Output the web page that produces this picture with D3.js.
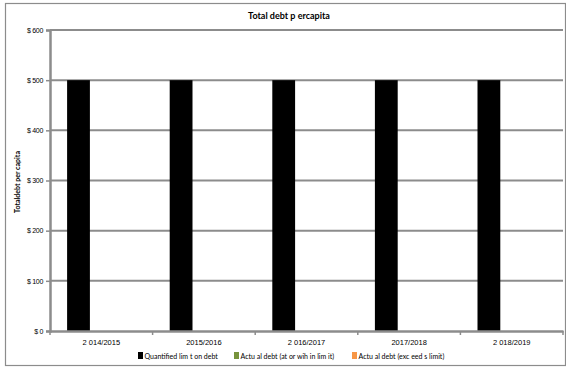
<!DOCTYPE html>
<html>
<head>
<meta charset="utf-8">
<script src="https://cdn.jsdelivr.net/npm/d3@7"></script>
<style>
  body { margin: 0; background: #fff; }
  svg { display: block; font-family: Lato, "Open Sans", sans-serif; }
</style>
</head>
<body>
<svg id="chart" width="566" height="369"></svg>
<script>
// Financial years shown on the x axis
const years = ["2 014/2015", "2015/2016", "2 016/2017", "2017/2018", "2 018/2019"];
// Series names (legend) and their fills
const seriesNames = ["Quantified lim t on  debt", "Actu al debt (at  or wih in lim it)", "Actu al debt (exc eed s limit)"];
const seriesColors = ["#000000", "#77933c", "#f79646"];
// Values per capita, one array per series
const limitValues = [500, 500, 500, 500, 500];
const actualWithin = [0, 0, 0, 0, 0];
const actualExceeds = [0, 0, 0, 0, 0];
// Y tick values and labels
const yTicks = [0, 100, 200, 300, 400, 500, 600];
const yTickLabels = ["$ 0", "$ 100", "$ 200", "$ 300", "$ 400", "$ 500", "$ 600"];

const allSeries = [limitValues, actualWithin, actualExceeds];
const svg = d3.select("#chart");
const m = { left: 50, top: 30 };
const plotR = 563, plotB = 331;

// outer chart border
svg.append("rect").attr("x", 5.5).attr("y", 3.5).attr("width", 560).attr("height", 362)
  .attr("fill", "#fff").attr("stroke", "#8c8c8c").attr("stroke-width", 1.2);

const x = d3.scaleBand().domain(years).range([m.left, plotR]).paddingInner(0).paddingOuter(0);
const y = d3.scaleLinear().domain([0, 600]).range([plotB, m.top]);

// bar width = band / (series + gap 1.5), group centred in the band
const barW = x.bandwidth() / 4.5;
const offset = barW * 0.75;

// grid lines
svg.append("g").selectAll("line").data(yTicks.filter(d => d > 0)).join("line")
  .attr("x1", m.left).attr("x2", plotR)
  .attr("y1", d => y(d)).attr("y2", d => y(d))
  .attr("stroke", "#8c8c8c").attr("stroke-width", 2);

// bars
allSeries.forEach((vals, si) => {
  svg.append("g").selectAll("rect").data(vals.map((v, i) => ({ v, cat: years[i] }))).join("rect")
    .attr("x", d => x(d.cat) + offset + si * barW)
    .attr("width", barW)
    .attr("y", d => y(d.v))
    .attr("height", d => plotB - y(d.v))
    .attr("fill", seriesColors[si]);
});

// y axis
const yAxis = d3.axisLeft(y).tickValues(yTicks).tickFormat((d, i) => yTickLabels[i]).tickSize(4).tickPadding(3);
const gy = svg.append("g").attr("transform", `translate(${m.left},0)`).call(yAxis);
gy.select(".domain").attr("stroke", "#8c8c8c").attr("stroke-width", 2.5);
gy.selectAll(".tick line").attr("stroke", "#8c8c8c").attr("stroke-width", 1.5);
gy.selectAll(".tick text").attr("font-size", 7).attr("fill", "#000").attr("letter-spacing", -0.3);

// x axis
const xAxis = d3.axisBottom(x).tickSize(0).tickPadding(9);
const gx = svg.append("g").attr("transform", `translate(0,${plotB})`).call(xAxis);
gx.select(".domain").attr("stroke", "#8c8c8c").attr("stroke-width", 2.5);
gx.selectAll(".tick text").attr("font-size", 7.5).attr("fill", "#000");
// category separators
svg.append("g").selectAll("line").data(years.map(d => x(d)).concat([plotR])).join("line")
  .attr("x1", d => d).attr("x2", d => d).attr("y1", plotB).attr("y2", plotB + 4)
  .attr("stroke", "#8c8c8c").attr("stroke-width", 1.5);

// title
svg.append("text").attr("x", 289).attr("y", 19).attr("text-anchor", "middle")
  .attr("font-size", 9).attr("font-weight", "bold").text("Total debt p ercapita");

// y axis title
svg.append("text").attr("transform", "translate(20,182) rotate(-90)").attr("text-anchor", "middle")
  .attr("font-size", 7).attr("font-weight", "bold").text("Totaldebt  per capita");

// legend
const legendX = [138, 234, 352];
const lg = svg.append("g").selectAll("g").data(seriesNames).join("g")
  .attr("transform", (d, i) => `translate(${legendX[i]},352)`);
lg.append("rect").attr("x", 0).attr("y", 0).attr("width", 5).attr("height", 7)
  .attr("fill", (d, i) => seriesColors[i]);
lg.append("text").attr("x", 6.5).attr("y", 6.5).attr("font-size", 7).text(d => d);
</script>
</body>
</html>
